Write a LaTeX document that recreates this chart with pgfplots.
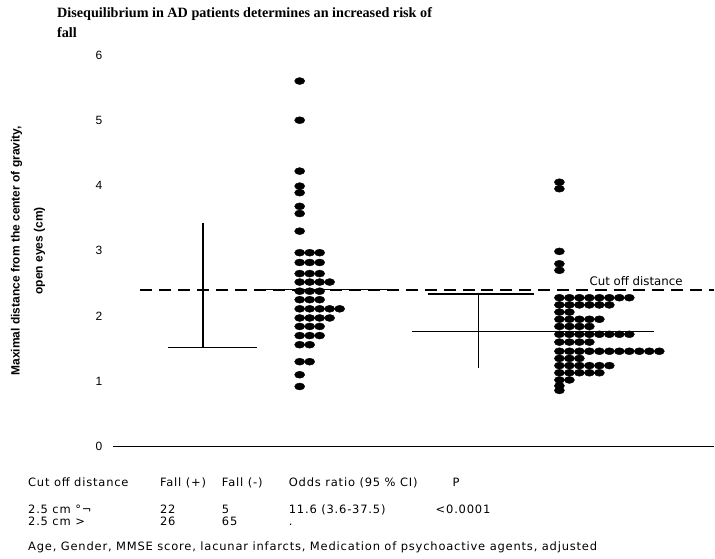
\documentclass[border=0pt]{standalone}
\usepackage{fontspec}
\setmainfont{Liberation Sans}
\newfontfamily\titlefont{Liberation Serif}
\newfontfamily\dv[LetterSpace=7]{DejaVu Sans}
\newfontfamily\dvp{DejaVu Sans}
\usepackage{pgfplots}
\usepackage{pgfplotstable}
\pgfplotsset{compat=1.18}
\pgfplotstableread{
x y
300 5.60
300 5.00
300 4.22
300 3.99
300 3.89
300 3.68
300 3.57
300 3.30
300 2.97
310 2.97
320 2.97
300 2.82
310 2.82
320 2.82
300 2.65
310 2.65
320 2.65
300 2.52
310 2.52
320 2.52
330 2.52
300 2.38
310 2.38
320 2.38
300 2.25
310 2.25
320 2.25
300 2.11
310 2.11
320 2.11
330 2.11
340 2.11
300 1.97
310 1.97
320 1.97
330 1.97
300 1.84
310 1.84
320 1.84
300 1.70
310 1.70
320 1.70
300 1.56
310 1.56
300 1.30
310 1.30
300 1.10
300 0.92
}\fallpos
\pgfplotstableread{
x y
560 4.05
560 3.95
560 2.99
560 2.80
560 2.70
560 2.28
570 2.28
580 2.28
590 2.28
600 2.28
610 2.28
620 2.28
630 2.28
560 2.17
570 2.17
580 2.17
590 2.17
600 2.17
610 2.17
560 2.06
570 2.06
560 1.95
570 1.95
580 1.95
590 1.95
600 1.95
560 1.84
570 1.84
580 1.84
590 1.84
560 1.72
570 1.72
580 1.72
590 1.72
600 1.72
610 1.72
620 1.72
630 1.72
560 1.60
570 1.60
580 1.60
590 1.60
560 1.46
570 1.46
580 1.46
590 1.46
600 1.46
610 1.46
620 1.46
630 1.46
640 1.46
650 1.46
660 1.46
560 1.35
570 1.35
580 1.35
560 1.24
570 1.24
580 1.24
590 1.24
600 1.24
610 1.24
560 1.13
570 1.13
580 1.13
590 1.13
600 1.13
560 1.02
570 1.02
560 0.93
560 0.86
}\fallneg
\begin{document}
\begin{tikzpicture}
\begin{axis}[
  scale only axis, width=602pt, height=392pt,
  xmin=113, xmax=715, ymin=0, ymax=6,
  axis x line=bottom, axis y line=left,
  axis line style={-},
  x axis line style={line width=1.2pt},
  y axis line style={draw=none},
  xtick=\empty, ytick={0,1,2,3,4,5,6},
  major tick length=0pt,
  yticklabel style={font=\fontsize{12}{13}\selectfont, xshift=-7pt},
  /pgf/number format/assume math mode=true,
  clip=false,
]
\path (axis cs:0,-1.714) rectangle (axis cs:715,6.842);
% cut off line
\addplot[black, line width=1.5pt, dash pattern=on 12pt off 7pt] coordinates {(140,2.40) (715,2.40)};
\addplot[black, line width=1.2pt] coordinates {(258,2.40) (390,2.40)};
% fall (+) group bars
\addplot[black, line width=1.6pt] coordinates {(203,3.43) (203,1.52)};
\addplot[black, line width=1.2pt] coordinates {(168,1.52) (257,1.52)};
% fall (-) group bars
\addplot[black, line width=1.6pt] coordinates {(479,2.33) (479,1.21)};
\addplot[black, line width=2pt] coordinates {(428,2.33) (535,2.33)};
\addplot[black, line width=1.4pt] coordinates {(412,1.76) (655,1.76)};
% dots
\addplot[only marks, mark=*, mark size=3.5pt, mark options={xscale=1.45, fill=black, draw=black}] table[x=x, y=y] {\fallpos};
\addplot[only marks, mark=*, mark size=3.5pt, mark options={xscale=1.45, fill=black, draw=black}] table[x=x, y=y] {\fallneg};
% texts
\node[anchor=west, font=\titlefont\bfseries\fontsize{14.2}{16}\selectfont, inner sep=0pt] at (axis cs:57,6.628) {Disequilibrium in AD patients determines an increased risk of};
\node[anchor=west, font=\titlefont\bfseries\fontsize{14.2}{16}\selectfont, inner sep=0pt] at (axis cs:57,6.337) {fall};
\node[rotate=90, align=center, font=\bfseries\fontsize{12}{23}\selectfont, inner sep=0pt] at (axis cs:28,3.0) {Maximal distance from the center of gravity,\\open eyes (cm)};
\node[anchor=west, font=\dvp\fontsize{11.8}{13}\selectfont, inner sep=0pt] at (axis cs:590,2.54) {Cut off distance};
\begin{scope}[every node/.style={anchor=west, font=\dv\fontsize{11.5}{12}\selectfont, inner sep=0pt}]
\node at (axis cs:28,-0.551) {Cut off distance};
\node at (axis cs:160,-0.551) {Fall (+)};
\node at (axis cs:222,-0.551) {Fall (-)};
\node at (axis cs:289,-0.551) {Odds ratio (95 \% CI)};
\node at (axis cs:453,-0.551) {P};
\node at (axis cs:28,-0.964) {2.5 cm °¬};
\node at (axis cs:160,-0.964) {22};
\node at (axis cs:222,-0.964) {5};
\node at (axis cs:289,-0.964) {11.6 (3.6-37.5)};
\node at (axis cs:436,-0.964) {<0.0001};
\node at (axis cs:28,-1.140) {2.5 cm >};
\node at (axis cs:160,-1.140) {26};
\node at (axis cs:222,-1.140) {65};
\node at (axis cs:289,-1.20) {.};
\node at (axis cs:28,-1.546) {Age, Gender, MMSE score, lacunar infarcts, Medication of psychoactive agents, adjusted};
\end{scope}
\end{axis}
\end{tikzpicture}
\end{document}
